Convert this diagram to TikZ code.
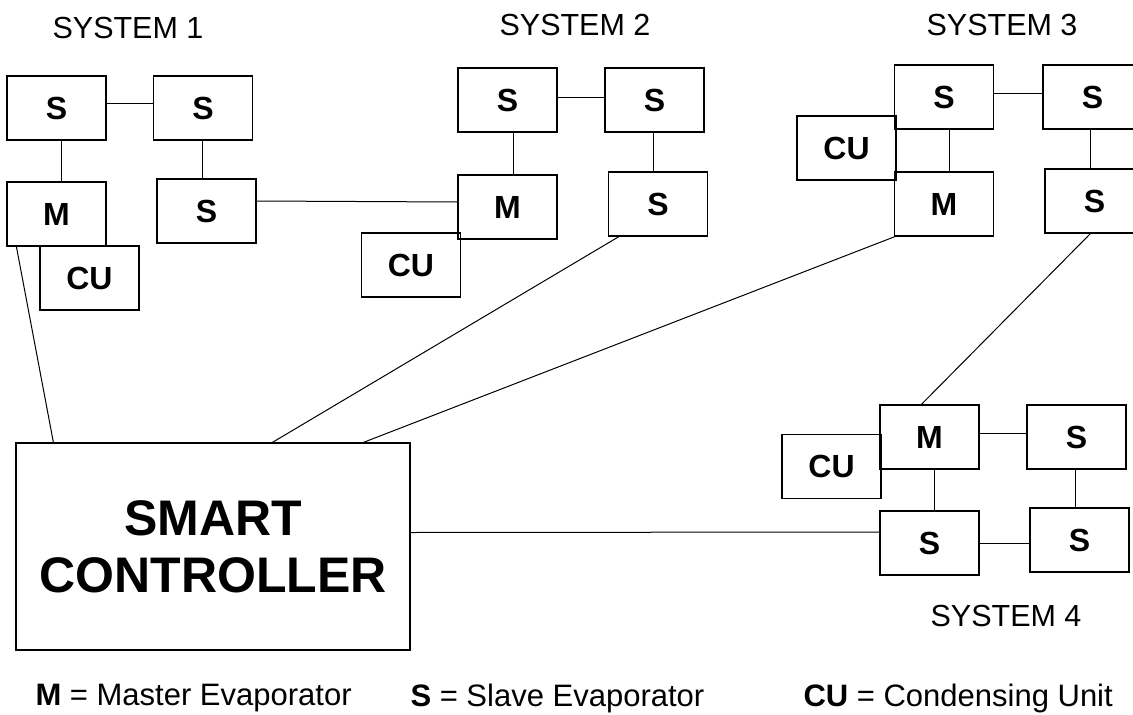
\documentclass[tikz,border=0pt]{standalone}
\usepackage{fontspec}
\setmainfont{Liberation Sans}
\begin{document}
\begin{tikzpicture}[x=1pt,y=-1pt,line width=1pt,
  unit/.style={draw,line width=1.2pt,minimum width=99pt,minimum height=64pt,inner sep=0pt,font=\fontsize{32}{32}\selectfont\bfseries},
  syslabel/.style={font=\fontsize{30.5}{30.5}\selectfont},
  legend/.style={anchor=west,inner sep=0pt,font=\fontsize{31}{31}\selectfont}]

\useasboundingbox (0,0) rectangle (1133,715);

% system 1
\node [unit] (S1a) at (56.5,108) {S};
\node [unit] (S1b) at (203,108) {S};
\node [unit] (M1) at (56.5,214) {M};
\node [unit] (S1c) at (206.5,211) {S};
\node [unit] (CU1) at (89.5,278) {CU};
\node [syslabel] (sys1) at (128,28) {SYSTEM 1};

% system 2
\node [unit] (S2a) at (507.5,100) {S};
\node [unit] (S2b) at (654.5,100) {S};
\node [unit] (M2) at (507.5,207) {M};
\node [unit] (S2c) at (658,204) {S};
\node [unit] (CU2) at (411,265) {CU};
\node [syslabel] (sys2) at (575,25) {SYSTEM 2};

% system 3
\node [unit] (S3a) at (944,97) {S};
\node [unit] (S3b) at (1092.5,97) {S};
\node [unit] (CU3) at (846.5,148) {CU};
\node [unit] (M3) at (944,204) {M};
\node [unit] (S3c) at (1094.5,201) {S};
\node [syslabel] (sys3) at (1002,25) {SYSTEM 3};

% system 4
\node [unit] (M4) at (929.5,437) {M};
\node [unit] (S4a) at (1076.5,437) {S};
\node [unit] (CU4) at (831.5,466.5) {CU};
\node [unit] (S4b) at (929.5,543) {S};
\node [unit] (S4c) at (1079.5,540) {S};
\node [syslabel] (sys4) at (1006,616) {SYSTEM 4};

% controller
\node [draw,line width=1.2pt,minimum width=394pt,minimum height=207pt,align=center,
  font=\fontsize{50}{57}\selectfont\bfseries] (ctrl) at (213,546.5) {SMART\\CONTROLLER};

% links inside the systems
\draw ([yshift=5pt]S1a.east) -- ([yshift=5pt]S1b.west);
\draw ([xshift=4.5pt]S1a.south) -- ([xshift=4.5pt]M1.north);
\draw ([xshift=-1pt]S1b.south) -- ([xshift=-1pt]S1b.south |- S1c.north);
\draw ([yshift=3pt]S2a.east) -- ([yshift=3pt]S2b.west);
\draw ([xshift=5.5pt]S2a.south) -- ([xshift=5.5pt]M2.north);
\draw ([xshift=-1.5pt]S2b.south) -- ([xshift=-1.5pt]S2b.south |- S2c.north);
\draw ([yshift=4pt]S3a.east) -- ([yshift=4pt]S3b.west);
\draw ([xshift=5pt]S3a.south) -- ([xshift=5pt]M3.north);
\draw ([xshift=-2.5pt]S3b.south) -- ([xshift=-2.5pt]S3b.south |- S3c.north);
\draw ([yshift=4pt]M4.east) -- ([yshift=4pt]S4a.west);
\draw ([xshift=4.5pt]M4.south) -- ([xshift=4.5pt]S4b.north);
\draw ([xshift=-1.5pt]S4a.south) -- ([xshift=-1.5pt]S4a.south |- S4c.north);
\draw (S4b.east) -- (S4c.west |- S4b.east);

% links between the systems
\draw ([yshift=10pt]S1c.east) -- ([yshift=5pt]M2.west);
\draw ([xshift=10pt]M1.south west) -- ([xshift=38pt]ctrl.north west);
\draw ([xshift=11pt]S2c.south west) -- ([xshift=257pt]ctrl.north west);
\draw ([xshift=1pt]M3.south west) -- ([xshift=348pt]ctrl.north west);
\draw ([xshift=46pt]S3c.south west) -- ([xshift=42pt]M4.north west);
\draw ([yshift=14pt]ctrl.east) -- ([yshift=11pt]S4b.west);

% legend
\node [legend] (keyM) at (35,698) {\textbf{M} = Master Evaporator};
\node [legend] (keyS) at (410,698) {\textbf{S} = Slave Evaporator};
\node [legend] (keyCU) at (803,698) {\textbf{CU} = Condensing Unit};

\end{tikzpicture}
\end{document}
